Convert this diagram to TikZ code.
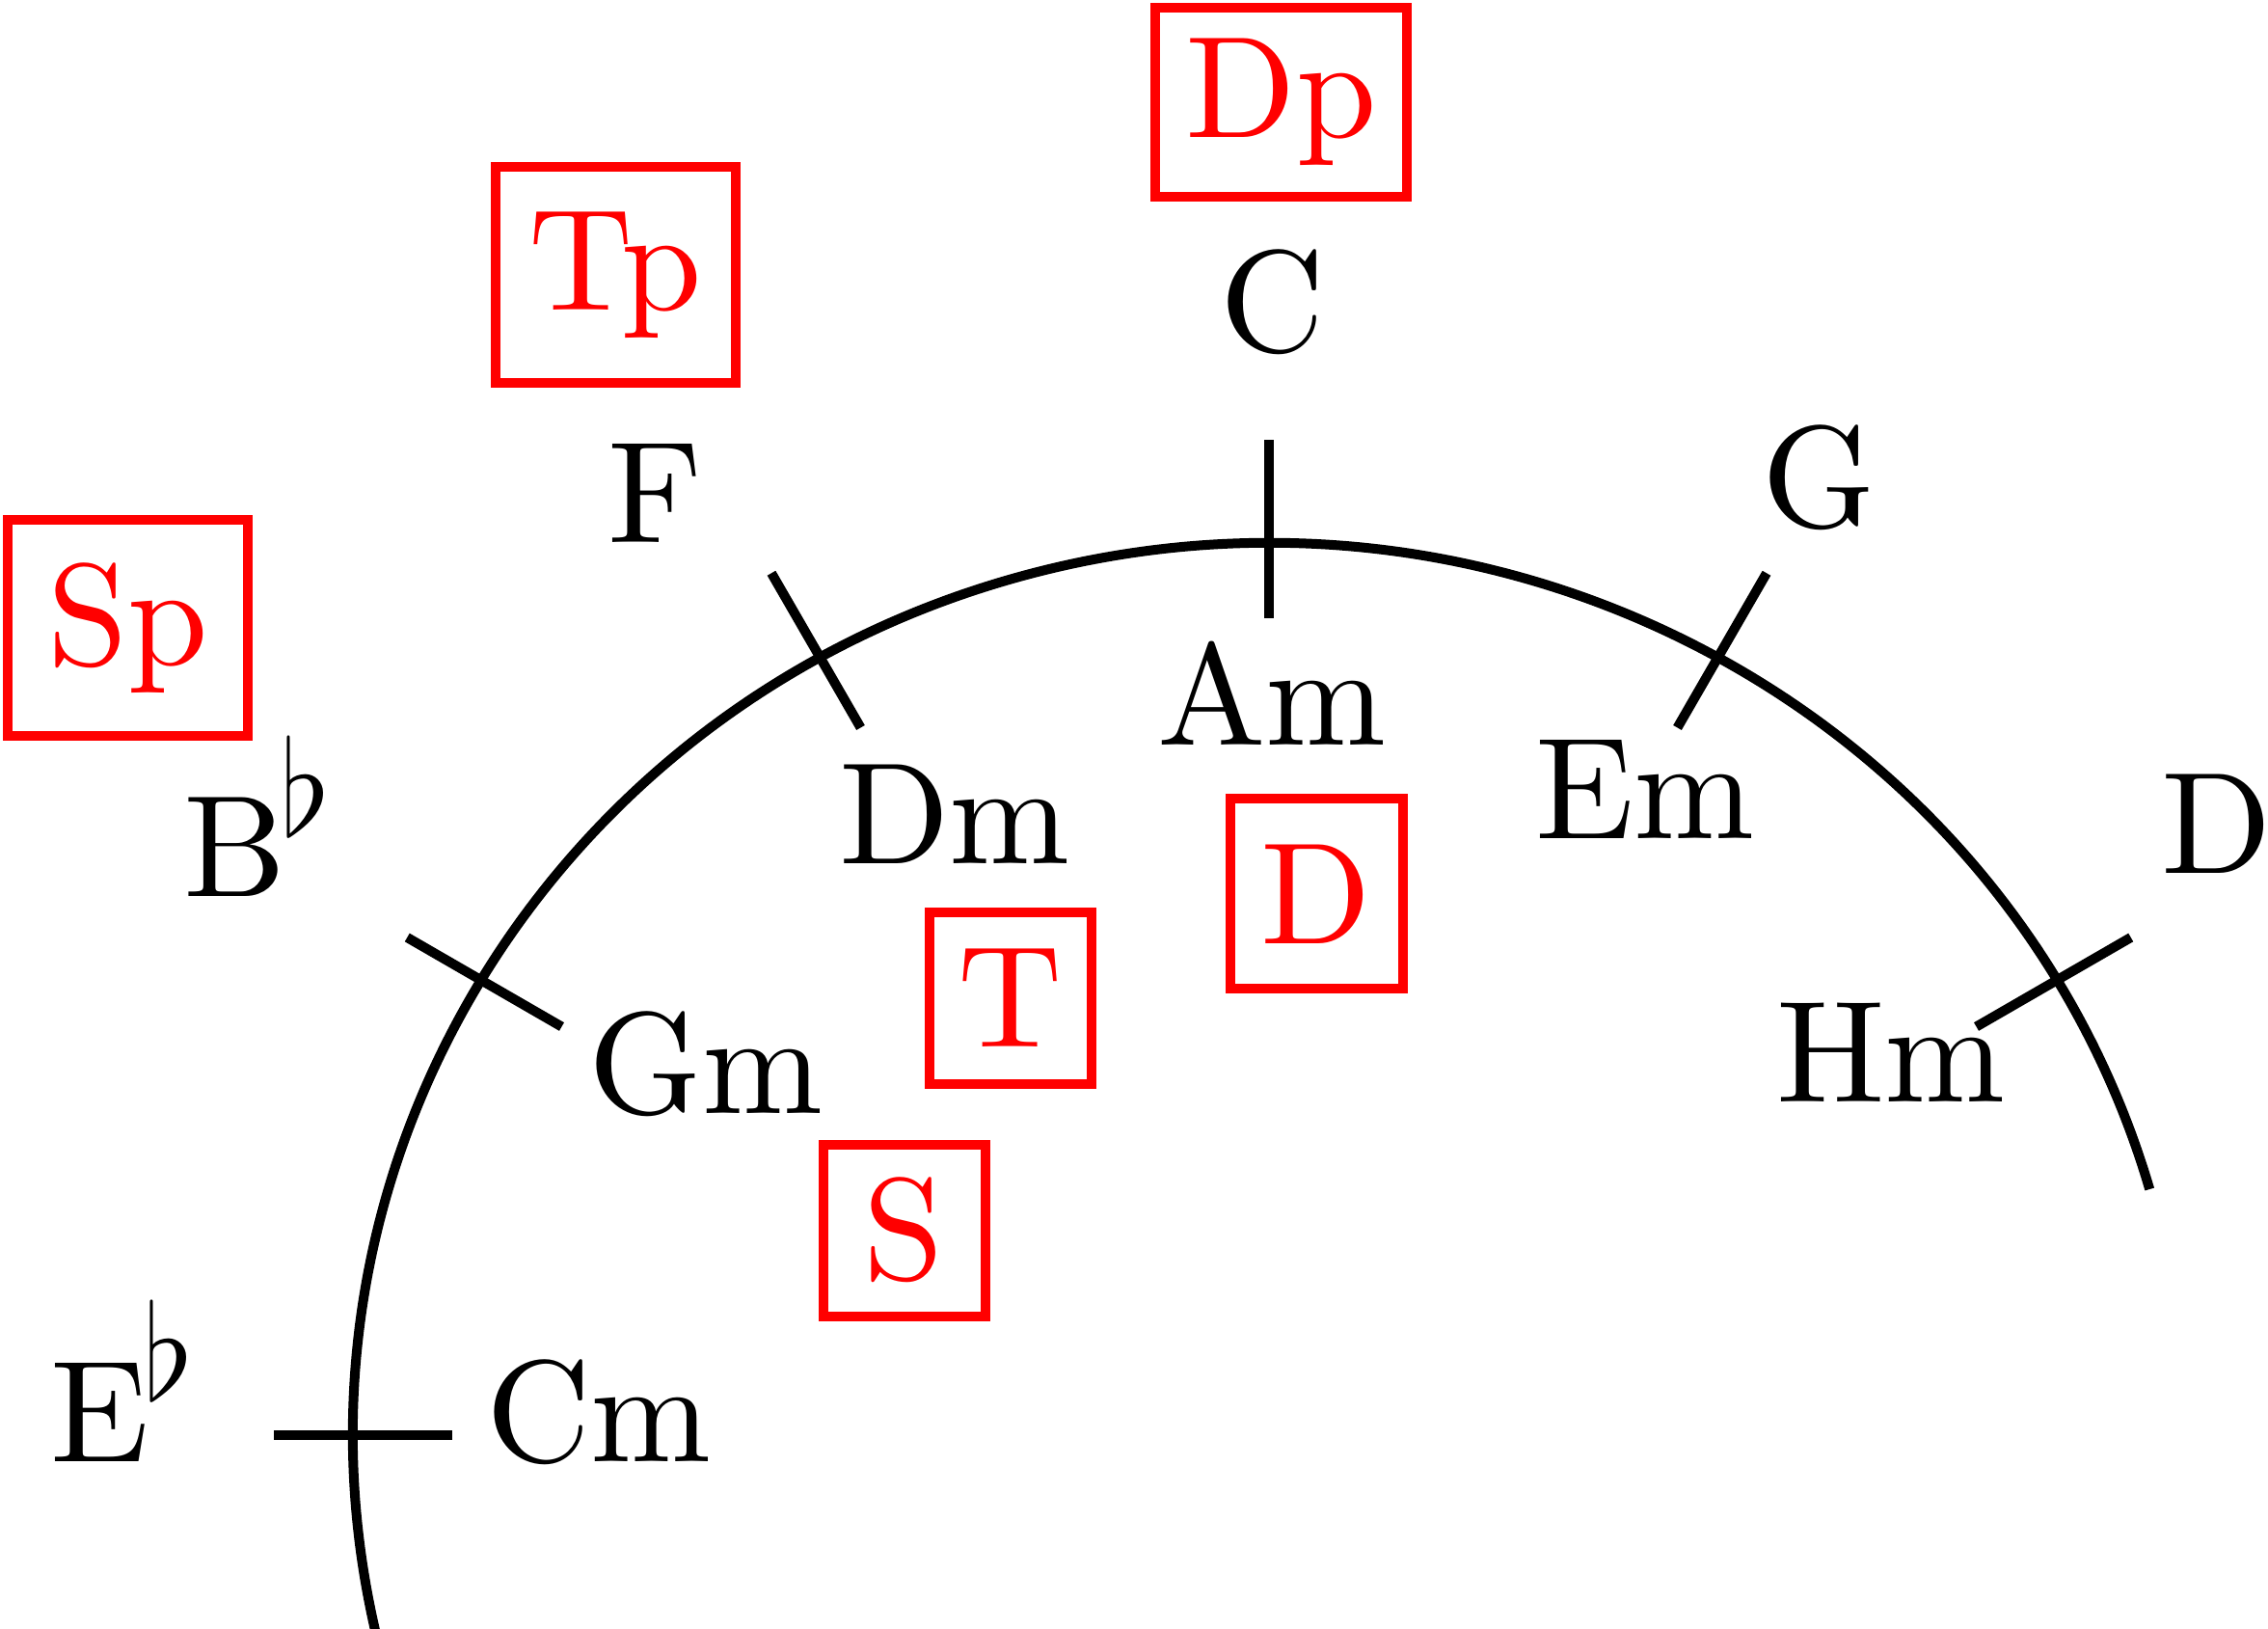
\RequirePackage{fix-cm}
\documentclass[tikz,border=0pt]{standalone}
\usepackage{fontspec}
\setmainfont{lmroman10-regular.otf}
\definecolor{fnred}{RGB}{255, 0, 0}
\usepackage{tikz}
\newcommand{\flt}{\kern-.04em\raisebox{.42em}{\scalebox{.92}{$\flat$}}}

\begin{document}
\begin{tikzpicture}[
    lbl/.style={font=\fontsize{42.7}{51}\selectfont, inner sep=0pt, anchor=base},
    fn/.style={lbl, anchor=center, draw=fnred, text=fnred, line width=0.1cm},
    tick/.style={line width=0.1cm}
  ]
  \useasboundingbox (0,0) rectangle (23.52,16.88);
  \coordinate (O) at (13.16,2.00);

  % Circle of fifths
  \draw[tick] (O) ++(16:9.5 and 9.25) arc[start angle=16, end angle=193, x radius=9.5, y radius=9.25];
  \foreach \a in {30,60,...,180}
    \draw[tick] (O) ++(\a:8.47) -- ++(\a:1.85);

  % Major keys (outside)
  \node[lbl] (C) at (13.20,13.23) {C};
  \node[lbl] (F) at (6.79,11.25) {F};
  \node[lbl] (G) at (18.86,11.41) {G};
  \node[lbl, anchor=base west] (Bb) at (1.90,7.58) {B\flt};
  \node[lbl] (D) at (22.99,7.82) {D};
  \node[lbl, anchor=base west] (Eb) at (0.52,1.73) {E\flt};

  % Minor keys (inside)
  \node[lbl] (Am) at (13.19,9.155) {Am};
  \node[lbl] (Dm) at (9.90,7.925) {Dm};
  \node[lbl] (Em) at (17.06,8.18) {Em};
  \node[lbl] (Gm) at (7.32,5.33) {Gm};
  \node[lbl] (Hm) at (19.61,5.45) {Hm};
  \node[lbl] (Cm) at (6.21,1.73) {Cm};

  % Functions
  \node[fn, minimum width=2.61cm, minimum height=1.96cm] (Dp) at (13.285,15.82) {Dp};
  \node[fn, minimum width=2.49cm, minimum height=2.24cm] (Tp) at (6.385,14.03) {Tp};
  \node[fn, minimum width=2.49cm, minimum height=2.24cm] (Sp) at (1.3275,10.37) {Sp};
  \node[fn, minimum width=1.79cm, minimum height=1.97cm] (Dfn) at (13.65,7.61) {D};
  \node[fn, minimum width=1.68cm, minimum height=1.78cm] (T) at (10.4775,6.53) {T};
  \node[fn, minimum width=1.68cm, minimum height=1.78cm] (S) at (9.375,4.1225) {S};
\end{tikzpicture}
\end{document}
